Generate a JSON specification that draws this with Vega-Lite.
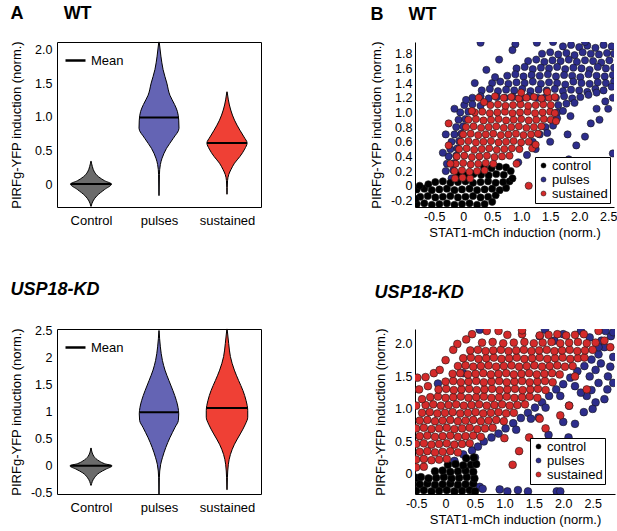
{
  "$schema": "https://vega.github.io/schema/vega-lite/v6.json",
  "padding": {"left": 9, "top": 4, "right": 0, "bottom": 0},
  "config": {
    "font": "Liberation Sans",
    "view": {"stroke": null},
    "axis": {"labelFontSize": 12.5, "titleFontSize": 13, "titleFontWeight": "normal", "labelColor": "black", "titleColor": "black", "domainColor": "black", "tickColor": "black", "grid": false, "labelOverlap": false},
    "title": {"fontSize": 18, "fontWeight": "bold", "anchor": "start", "frame": "bounds", "color": "black"},
    "legend": {"labelFontSize": 13, "labelColor": "black"}
  },
  "datasets": {
    "vWT": [
      {"g":"c","y":-0.33,"lo":0.498,"hi":0.502},{"g":"c","y":-0.25,"lo":0.47,"hi":0.53},{"g":"c","y":-0.17,"lo":0.41,"hi":0.59},{"g":"c","y":-0.08,"lo":0.3,"hi":0.7},{"g":"c","y":0,"lo":0.2,"hi":0.8},{"g":"c","y":0.05,"lo":0.3,"hi":0.7},{"g":"c","y":0.11,"lo":0.39,"hi":0.61},{"g":"c","y":0.18,"lo":0.45,"hi":0.55},{"g":"c","y":0.26,"lo":0.48,"hi":0.52},{"g":"c","y":0.34,"lo":0.498,"hi":0.502},
      {"g":"p","y":-0.17,"lo":1.498,"hi":1.502},{"g":"p","y":0.14,"lo":1.494,"hi":1.506},{"g":"p","y":0.29,"lo":1.48,"hi":1.52},{"g":"p","y":0.385,"lo":1.455,"hi":1.545},{"g":"p","y":0.53,"lo":1.39,"hi":1.61},{"g":"p","y":0.68,"lo":1.29,"hi":1.71},{"g":"p","y":0.83,"lo":1.206,"hi":1.794},{"g":"p","y":0.95,"lo":1.21,"hi":1.79},{"g":"p","y":1.08,"lo":1.23,"hi":1.77},{"g":"p","y":1.18,"lo":1.27,"hi":1.73},{"g":"p","y":1.32,"lo":1.34,"hi":1.66},{"g":"p","y":1.5,"lo":1.385,"hi":1.615},{"g":"p","y":1.7,"lo":1.44,"hi":1.56},{"g":"p","y":1.9,"lo":1.472,"hi":1.528},{"g":"p","y":2.11,"lo":1.497,"hi":1.503},
      {"g":"s","y":-0.15,"lo":2.498,"hi":2.502},{"g":"s","y":0.05,"lo":2.492,"hi":2.508},{"g":"s","y":0.14,"lo":2.475,"hi":2.525},{"g":"s","y":0.22,"lo":2.44,"hi":2.56},{"g":"s","y":0.31,"lo":2.39,"hi":2.61},{"g":"s","y":0.41,"lo":2.31,"hi":2.69},{"g":"s","y":0.52,"lo":2.24,"hi":2.76},{"g":"s","y":0.61,"lo":2.205,"hi":2.795},{"g":"s","y":0.7,"lo":2.25,"hi":2.75},{"g":"s","y":0.8,"lo":2.31,"hi":2.69},{"g":"s","y":0.95,"lo":2.39,"hi":2.61},{"g":"s","y":1.1,"lo":2.445,"hi":2.555},{"g":"s","y":1.25,"lo":2.48,"hi":2.52},{"g":"s","y":1.37,"lo":2.498,"hi":2.502}
    ],
    "mWT": [
      {"lab":"Mean","y":0,"lo":0.2,"hi":0.8},{"lab":"Mean","y":0.99,"lo":1.215,"hi":1.785},{"lab":"Mean","y":0.61,"lo":2.205,"hi":2.795}
    ],
    "vKD": [
      {"g":"c","y":-0.36,"lo":0.498,"hi":0.502},{"g":"c","y":-0.22,"lo":0.45,"hi":0.55},{"g":"c","y":-0.13,"lo":0.38,"hi":0.62},{"g":"c","y":-0.06,"lo":0.28,"hi":0.72},{"g":"c","y":0,"lo":0.19,"hi":0.81},{"g":"c","y":0.04,"lo":0.3,"hi":0.7},{"g":"c","y":0.09,"lo":0.38,"hi":0.62},{"g":"c","y":0.18,"lo":0.46,"hi":0.54},{"g":"c","y":0.33,"lo":0.498,"hi":0.502},
      {"g":"p","y":-0.53,"lo":1.498,"hi":1.502},{"g":"p","y":-0.22,"lo":1.495,"hi":1.505},{"g":"p","y":0.03,"lo":1.475,"hi":1.525},{"g":"p","y":0.15,"lo":1.45,"hi":1.55},{"g":"p","y":0.34,"lo":1.4,"hi":1.6},{"g":"p","y":0.52,"lo":1.34,"hi":1.66},{"g":"p","y":0.71,"lo":1.265,"hi":1.735},{"g":"p","y":0.84,"lo":1.215,"hi":1.785},{"g":"p","y":0.96,"lo":1.21,"hi":1.79},{"g":"p","y":1.08,"lo":1.22,"hi":1.78},{"g":"p","y":1.21,"lo":1.245,"hi":1.755},{"g":"p","y":1.39,"lo":1.295,"hi":1.705},{"g":"p","y":1.58,"lo":1.355,"hi":1.645},{"g":"p","y":1.77,"lo":1.412,"hi":1.588},{"g":"p","y":1.95,"lo":1.45,"hi":1.55},{"g":"p","y":2.2,"lo":1.48,"hi":1.52},{"g":"p","y":2.5,"lo":1.498,"hi":1.502},
      {"g":"s","y":-0.44,"lo":2.498,"hi":2.502},{"g":"s","y":-0.22,"lo":2.494,"hi":2.506},{"g":"s","y":0.03,"lo":2.48,"hi":2.52},{"g":"s","y":0.21,"lo":2.45,"hi":2.55},{"g":"s","y":0.4,"lo":2.39,"hi":2.61},{"g":"s","y":0.59,"lo":2.305,"hi":2.695},{"g":"s","y":0.77,"lo":2.23,"hi":2.77},{"g":"s","y":0.9,"lo":2.195,"hi":2.805},{"g":"s","y":1.02,"lo":2.195,"hi":2.805},{"g":"s","y":1.21,"lo":2.22,"hi":2.78},{"g":"s","y":1.39,"lo":2.265,"hi":2.735},{"g":"s","y":1.58,"lo":2.33,"hi":2.67},{"g":"s","y":1.77,"lo":2.392,"hi":2.608},{"g":"s","y":2.02,"lo":2.45,"hi":2.55},{"g":"s","y":2.26,"lo":2.475,"hi":2.525},{"g":"s","y":2.53,"lo":2.498,"hi":2.502}
    ],
    "mKD": [
      {"lab":"Mean","y":0,"lo":0.2,"hi":0.8},{"lab":"Mean","y":0.99,"lo":1.215,"hi":1.785},{"lab":"Mean","y":1.07,"lo":2.197,"hi":2.803}
    ],
    "sWT": [
      {"g":"p","x":1.72,"y":1.9},{"g":"p","x":1.86,"y":1.92},{"g":"p","x":2.0,"y":1.89},{"g":"p","x":2.14,"y":1.91},{"g":"p","x":2.28,"y":1.88},{"g":"p","x":2.42,"y":1.92},{"g":"p","x":2.56,"y":1.9},
      {"g":"p","x":1.27,"y":1.95},{"g":"p","x":0.9,"y":1.93},{"g":"p","x":0.3,"y":1.95},{"g":"p","x":1.55,"y":1.96},{"g":"p","x":2.1,"y":1.96},
      {"g":"p","x":1.36,"y":1.8},{"g":"p","x":1.5,"y":1.82},{"g":"p","x":1.64,"y":1.79},{"g":"p","x":1.78,"y":1.81},{"g":"p","x":1.92,"y":1.78},{"g":"p","x":2.06,"y":1.82},{"g":"p","x":2.2,"y":1.8},{"g":"p","x":2.34,"y":1.79},{"g":"p","x":2.48,"y":1.81},{"g":"p","x":2.6,"y":1.8},
      {"g":"p","x":1.12,"y":1.7},{"g":"p","x":1.26,"y":1.72},{"g":"p","x":1.4,"y":1.69},{"g":"p","x":1.54,"y":1.71},{"g":"p","x":1.68,"y":1.7},{"g":"p","x":1.82,"y":1.72},{"g":"p","x":1.96,"y":1.69},{"g":"p","x":2.1,"y":1.71},{"g":"p","x":2.24,"y":1.7},{"g":"p","x":2.38,"y":1.68},{"g":"p","x":2.52,"y":1.71},
      {"g":"p","x":0.92,"y":1.6},{"g":"p","x":1.06,"y":1.62},{"g":"p","x":1.2,"y":1.59},{"g":"p","x":1.34,"y":1.61},{"g":"p","x":1.48,"y":1.6},{"g":"p","x":1.62,"y":1.62},{"g":"p","x":1.76,"y":1.59},{"g":"p","x":1.9,"y":1.61},{"g":"p","x":2.04,"y":1.6},{"g":"p","x":2.18,"y":1.58},{"g":"p","x":2.32,"y":1.62},{"g":"p","x":2.46,"y":1.6},{"g":"p","x":2.6,"y":1.61},
      {"g":"p","x":0.76,"y":1.5},{"g":"p","x":0.9,"y":1.52},{"g":"p","x":1.04,"y":1.49},{"g":"p","x":1.18,"y":1.51},{"g":"p","x":1.32,"y":1.5},{"g":"p","x":1.46,"y":1.52},{"g":"p","x":1.6,"y":1.49},{"g":"p","x":1.74,"y":1.51},{"g":"p","x":1.88,"y":1.5},{"g":"p","x":2.02,"y":1.48},{"g":"p","x":2.16,"y":1.52},{"g":"p","x":2.3,"y":1.5},{"g":"p","x":2.44,"y":1.49},{"g":"p","x":2.58,"y":1.51},
      {"g":"p","x":0.5,"y":1.4},{"g":"p","x":0.64,"y":1.42},{"g":"p","x":0.78,"y":1.39},{"g":"p","x":0.92,"y":1.41},{"g":"p","x":1.06,"y":1.4},{"g":"p","x":1.2,"y":1.42},{"g":"p","x":1.34,"y":1.39},{"g":"p","x":1.48,"y":1.41},{"g":"p","x":1.62,"y":1.4},{"g":"p","x":1.76,"y":1.38},{"g":"p","x":1.9,"y":1.42},{"g":"p","x":2.04,"y":1.4},{"g":"p","x":2.18,"y":1.39},{"g":"p","x":2.32,"y":1.41},{"g":"p","x":2.46,"y":1.4},{"g":"p","x":2.6,"y":1.42},
      {"g":"p","x":0.32,"y":1.3},{"g":"p","x":0.46,"y":1.32},{"g":"p","x":0.6,"y":1.29},{"g":"p","x":0.74,"y":1.31},{"g":"p","x":0.88,"y":1.3},{"g":"p","x":1.02,"y":1.32},{"g":"p","x":1.16,"y":1.29},{"g":"p","x":1.3,"y":1.31},{"g":"p","x":1.44,"y":1.3},{"g":"p","x":1.58,"y":1.32},{"g":"p","x":1.72,"y":1.29},{"g":"p","x":1.86,"y":1.31},{"g":"p","x":2.0,"y":1.3},{"g":"p","x":2.14,"y":1.28},{"g":"p","x":2.28,"y":1.32},{"g":"p","x":2.42,"y":1.3},{"g":"p","x":2.56,"y":1.35},
      {"g":"p","x":0.16,"y":1.2},{"g":"p","x":0.3,"y":1.22},{"g":"p","x":0.44,"y":1.19},{"g":"p","x":0.58,"y":1.21},{"g":"p","x":0.72,"y":1.2},{"g":"p","x":0.86,"y":1.21},{"g":"p","x":1.0,"y":1.2},{"g":"p","x":1.14,"y":1.22},{"g":"p","x":1.28,"y":1.2},{"g":"p","x":1.42,"y":1.21},{"g":"p","x":1.6,"y":1.2},{"g":"p","x":1.74,"y":1.22},{"g":"p","x":1.88,"y":1.19},{"g":"p","x":2.02,"y":1.21},{"g":"p","x":2.16,"y":1.24},{"g":"p","x":2.3,"y":1.27},
      {"g":"p","x":0.02,"y":1.1},{"g":"p","x":0.16,"y":1.11},{"g":"p","x":0.3,"y":1.09},{"g":"p","x":1.64,"y":1.1},{"g":"p","x":1.78,"y":1.12},{"g":"p","x":1.92,"y":1.13},{"g":"p","x":2.3,"y":1.05},
      {"g":"p","x":-0.05,"y":1.0},{"g":"p","x":0.09,"y":1.01},{"g":"p","x":1.62,"y":1.0},{"g":"p","x":1.72,"y":1.02},{"g":"p","x":1.85,"y":0.95},
      {"g":"p","x":-0.08,"y":0.9},{"g":"p","x":0.04,"y":0.91},{"g":"p","x":1.55,"y":0.88},{"g":"p","x":1.62,"y":0.92},
      {"g":"p","x":-0.12,"y":0.8},{"g":"p","x":0.0,"y":0.81},{"g":"p","x":1.42,"y":0.8},{"g":"p","x":1.55,"y":0.82},
      {"g":"p","x":-0.15,"y":0.7},{"g":"p","x":-0.03,"y":0.71},{"g":"p","x":1.32,"y":0.7},{"g":"p","x":1.45,"y":0.72},
      {"g":"p","x":-0.2,"y":0.6},{"g":"p","x":-0.07,"y":0.61},{"g":"p","x":1.2,"y":0.6},
      {"g":"p","x":-0.22,"y":0.5},{"g":"p","x":-0.1,"y":0.51},{"g":"p","x":-0.25,"y":0.4},{"g":"p","x":-0.12,"y":0.41},{"g":"p","x":-0.28,"y":0.3},{"g":"p","x":-0.15,"y":0.31},{"g":"p","x":-0.3,"y":0.2},{"g":"p","x":-0.17,"y":0.21},{"g":"p","x":-0.2,"y":0.1},
      {"g":"p","x":-0.15,"y":1.05},{"g":"p","x":0.05,"y":1.17},{"g":"p","x":0.4,"y":1.58},{"g":"p","x":0.62,"y":1.72},{"g":"p","x":0.55,"y":1.48},{"g":"p","x":-0.3,"y":0.7},{"g":"p","x":-0.35,"y":0.45},{"g":"p","x":0.85,"y":1.85},{"g":"p","x":1.8,"y":0.7},{"g":"p","x":2.1,"y":0.67},{"g":"p","x":2.58,"y":0.44},{"g":"p","x":1.82,"y":0.36},{"g":"p","x":1.95,"y":0.55},{"g":"p","x":2.35,"y":0.9},{"g":"p","x":2.5,"y":1.05},{"g":"p","x":2.2,"y":0.85},{"g":"p","x":0.95,"y":0.32},{"g":"p","x":1.1,"y":0.42},{"g":"p","x":1.25,"y":0.5},{"g":"p","x":1.5,"y":0.6},{"g":"p","x":2.45,"y":1.15},{"g":"p","x":0.2,"y":1.4},{"g":"p","x":2.58,"y":1.2},
      {"g":"c","x":-0.8,"y":-0.25},{"g":"c","x":-0.67,"y":-0.24},{"g":"c","x":-0.54,"y":-0.26},{"g":"c","x":-0.41,"y":-0.25},{"g":"c","x":-0.28,"y":-0.24},{"g":"c","x":-0.15,"y":-0.26},{"g":"c","x":-0.02,"y":-0.25},{"g":"c","x":0.11,"y":-0.24},{"g":"c","x":0.24,"y":-0.26},{"g":"c","x":0.37,"y":-0.25},
      {"g":"c","x":-0.74,"y":-0.15},{"g":"c","x":-0.61,"y":-0.14},{"g":"c","x":-0.48,"y":-0.16},{"g":"c","x":-0.35,"y":-0.15},{"g":"c","x":-0.22,"y":-0.14},{"g":"c","x":-0.09,"y":-0.16},{"g":"c","x":0.04,"y":-0.15},{"g":"c","x":0.17,"y":-0.14},{"g":"c","x":0.3,"y":-0.16},{"g":"c","x":0.43,"y":-0.15},{"g":"c","x":0.56,"y":-0.13},
      {"g":"c","x":-0.8,"y":-0.05},{"g":"c","x":-0.67,"y":-0.04},{"g":"c","x":-0.54,"y":-0.06},{"g":"c","x":-0.41,"y":-0.05},{"g":"c","x":-0.28,"y":-0.04},{"g":"c","x":-0.15,"y":-0.06},{"g":"c","x":-0.02,"y":-0.05},{"g":"c","x":0.11,"y":-0.04},{"g":"c","x":0.24,"y":-0.06},{"g":"c","x":0.37,"y":-0.05},{"g":"c","x":0.5,"y":-0.04},{"g":"c","x":0.63,"y":-0.06},{"g":"c","x":0.74,"y":-0.03},
      {"g":"c","x":-0.48,"y":0.05},{"g":"c","x":-0.35,"y":0.06},{"g":"c","x":-0.22,"y":0.04},{"g":"c","x":-0.09,"y":0.05},{"g":"c","x":0.04,"y":0.06},{"g":"c","x":0.17,"y":0.04},{"g":"c","x":0.3,"y":0.05},{"g":"c","x":0.43,"y":0.06},{"g":"c","x":0.56,"y":0.04},{"g":"c","x":0.69,"y":0.05},{"g":"c","x":0.8,"y":0.06},
      {"g":"c","x":-0.08,"y":0.15},{"g":"c","x":0.05,"y":0.14},{"g":"c","x":0.18,"y":0.16},{"g":"c","x":0.31,"y":0.15},{"g":"c","x":0.44,"y":0.14},{"g":"c","x":0.57,"y":0.16},{"g":"c","x":0.7,"y":0.15},
      {"g":"c","x":0.36,"y":0.25},{"g":"c","x":0.49,"y":0.24},{"g":"c","x":0.62,"y":0.26},{"g":"c","x":0.74,"y":0.25},
      {"g":"c","x":-0.6,"y":0.02},{"g":"c","x":-0.75,"y":0.0},{"g":"c","x":0.82,"y":0.2},{"g":"c","x":0.5,"y":-0.22},{"g":"c","x":-0.82,"y":-0.18},{"g":"c","x":0.85,"y":0.1},
      {"g":"s","x":-0.14,"y":0.1},{"g":"s","x":-0.01,"y":0.11},{"g":"s","x":0.12,"y":0.1},
      {"g":"s","x":-0.15,"y":0.2},{"g":"s","x":-0.02,"y":0.21},{"g":"s","x":0.11,"y":0.19},{"g":"s","x":0.24,"y":0.2},{"g":"s","x":0.37,"y":0.21},
      {"g":"s","x":-0.13,"y":0.3},{"g":"s","x":0.0,"y":0.31},{"g":"s","x":0.13,"y":0.29},{"g":"s","x":0.26,"y":0.3},{"g":"s","x":0.39,"y":0.31},{"g":"s","x":0.52,"y":0.3},
      {"g":"s","x":-0.11,"y":0.4},{"g":"s","x":0.02,"y":0.41},{"g":"s","x":0.15,"y":0.39},{"g":"s","x":0.28,"y":0.4},{"g":"s","x":0.41,"y":0.41},{"g":"s","x":0.54,"y":0.39},{"g":"s","x":0.67,"y":0.4},{"g":"s","x":0.8,"y":0.41},
      {"g":"s","x":-0.07,"y":0.5},{"g":"s","x":0.06,"y":0.51},{"g":"s","x":0.19,"y":0.49},{"g":"s","x":0.32,"y":0.5},{"g":"s","x":0.45,"y":0.51},{"g":"s","x":0.58,"y":0.49},{"g":"s","x":0.71,"y":0.5},{"g":"s","x":0.84,"y":0.51},{"g":"s","x":0.97,"y":0.5},
      {"g":"s","x":-0.04,"y":0.6},{"g":"s","x":0.09,"y":0.61},{"g":"s","x":0.22,"y":0.59},{"g":"s","x":0.35,"y":0.6},{"g":"s","x":0.48,"y":0.61},{"g":"s","x":0.61,"y":0.59},{"g":"s","x":0.74,"y":0.6},{"g":"s","x":0.87,"y":0.61},{"g":"s","x":1.0,"y":0.59},{"g":"s","x":1.13,"y":0.6},
      {"g":"s","x":0.0,"y":0.7},{"g":"s","x":0.13,"y":0.71},{"g":"s","x":0.26,"y":0.69},{"g":"s","x":0.39,"y":0.7},{"g":"s","x":0.52,"y":0.71},{"g":"s","x":0.65,"y":0.69},{"g":"s","x":0.78,"y":0.7},{"g":"s","x":0.91,"y":0.71},{"g":"s","x":1.04,"y":0.69},{"g":"s","x":1.17,"y":0.7},{"g":"s","x":1.29,"y":0.71},
      {"g":"s","x":0.05,"y":0.8},{"g":"s","x":0.18,"y":0.81},{"g":"s","x":0.31,"y":0.79},{"g":"s","x":0.44,"y":0.8},{"g":"s","x":0.57,"y":0.81},{"g":"s","x":0.7,"y":0.79},{"g":"s","x":0.83,"y":0.8},{"g":"s","x":0.96,"y":0.81},{"g":"s","x":1.09,"y":0.79},{"g":"s","x":1.22,"y":0.8},{"g":"s","x":1.35,"y":0.81},
      {"g":"s","x":0.09,"y":0.9},{"g":"s","x":0.22,"y":0.91},{"g":"s","x":0.35,"y":0.89},{"g":"s","x":0.48,"y":0.9},{"g":"s","x":0.61,"y":0.91},{"g":"s","x":0.74,"y":0.89},{"g":"s","x":0.87,"y":0.9},{"g":"s","x":1.0,"y":0.91},{"g":"s","x":1.13,"y":0.89},{"g":"s","x":1.26,"y":0.9},{"g":"s","x":1.39,"y":0.91},{"g":"s","x":1.51,"y":0.9},
      {"g":"s","x":0.2,"y":1.0},{"g":"s","x":0.33,"y":1.01},{"g":"s","x":0.46,"y":0.99},{"g":"s","x":0.59,"y":1.0},{"g":"s","x":0.72,"y":1.01},{"g":"s","x":0.85,"y":0.99},{"g":"s","x":0.98,"y":1.0},{"g":"s","x":1.11,"y":1.01},{"g":"s","x":1.24,"y":0.99},{"g":"s","x":1.37,"y":1.0},{"g":"s","x":1.5,"y":1.01},{"g":"s","x":1.58,"y":0.99},
      {"g":"s","x":0.47,"y":1.1},{"g":"s","x":0.6,"y":1.11},{"g":"s","x":0.73,"y":1.09},{"g":"s","x":0.86,"y":1.1},{"g":"s","x":0.99,"y":1.11},{"g":"s","x":1.12,"y":1.09},{"g":"s","x":1.25,"y":1.1},{"g":"s","x":1.38,"y":1.11},{"g":"s","x":1.51,"y":1.1},
      {"g":"s","x":0.7,"y":1.2},{"g":"s","x":0.83,"y":1.21},{"g":"s","x":0.96,"y":1.19},{"g":"s","x":1.09,"y":1.2},{"g":"s","x":1.22,"y":1.21},{"g":"s","x":1.35,"y":1.19},{"g":"s","x":1.48,"y":1.2},{"g":"s","x":1.58,"y":1.21},
      {"g":"s","x":-0.25,"y":0.85},{"g":"s","x":0.27,"y":1.2},{"g":"s","x":0.36,"y":1.14},{"g":"s","x":1.13,"y":0.0},{"g":"s","x":1.19,"y":0.51},{"g":"s","x":1.25,"y":0.56},{"g":"s","x":-0.25,"y":0.55},{"g":"s","x":-0.22,"y":0.3},{"g":"s","x":1.0,"y":1.27},{"g":"s","x":0.55,"y":1.22},{"g":"s","x":1.45,"y":1.28},{"g":"s","x":0.92,"y":0.3},{"g":"s","x":0.15,"y":1.02},{"g":"s","x":1.6,"y":0.88}
    ],
    "sKD": [
      {"g":"p","x":0.3,"y":0.3},{"g":"p","x":0.45,"y":0.36},{"g":"p","x":0.55,"y":0.42},{"g":"p","x":0.65,"y":0.5},{"g":"p","x":0.78,"y":0.56},{"g":"p","x":0.9,"y":0.62},{"g":"p","x":1.02,"y":0.7},{"g":"p","x":1.15,"y":0.78},{"g":"p","x":1.28,"y":0.86},{"g":"p","x":1.4,"y":0.94},{"g":"p","x":1.52,"y":1.02},{"g":"p","x":1.64,"y":1.1},{"g":"p","x":1.76,"y":1.2},{"g":"p","x":1.88,"y":1.3},{"g":"p","x":2.0,"y":1.38},{"g":"p","x":2.12,"y":1.48},{"g":"p","x":2.24,"y":1.58},{"g":"p","x":2.36,"y":1.66},{"g":"p","x":2.48,"y":1.76},{"g":"p","x":2.6,"y":1.84},
      {"g":"p","x":1.2,"y":0.68},{"g":"p","x":1.45,"y":0.85},{"g":"p","x":1.7,"y":1.02},{"g":"p","x":1.95,"y":1.2},{"g":"p","x":2.2,"y":1.35},{"g":"p","x":2.45,"y":1.5},
      {"g":"p","x":2.48,"y":1.29},{"g":"p","x":2.76,"y":1.5},{"g":"p","x":2.64,"y":1.7},{"g":"p","x":2.81,"y":2.12},{"g":"p","x":2.7,"y":1.95},{"g":"p","x":2.85,"y":1.8},{"g":"p","x":2.6,"y":1.4},{"g":"p","x":2.75,"y":1.3},{"g":"p","x":2.55,"y":1.6},{"g":"p","x":2.8,"y":1.65},{"g":"p","x":2.4,"y":1.2},{"g":"p","x":2.65,"y":2.05},{"g":"p","x":2.85,"y":2.18},{"g":"p","x":2.72,"y":2.2},{"g":"p","x":2.55,"y":1.1},{"g":"p","x":2.3,"y":1.25},{"g":"p","x":2.1,"y":1.05},{"g":"p","x":2.85,"y":1.4},{"g":"p","x":2.7,"y":1.15},{"g":"p","x":2.6,"y":1.95},
      {"g":"p","x":0.58,"y":2.22},{"g":"p","x":1.69,"y":2.22},{"g":"p","x":1.6,"y":2.12},{"g":"p","x":1.85,"y":2.05},{"g":"p","x":2.0,"y":2.15},{"g":"p","x":2.3,"y":2.2},{"g":"p","x":2.45,"y":2.1},{"g":"p","x":0.3,"y":1.55},{"g":"p","x":-0.13,"y":1.39},
      {"g":"p","x":0.58,"y":-0.2},{"g":"p","x":0.63,"y":-0.23},{"g":"p","x":0.92,"y":-0.24},{"g":"p","x":1.23,"y":-0.25},{"g":"p","x":1.4,"y":-0.27},{"g":"p","x":1.89,"y":-0.27},{"g":"p","x":1.95,"y":-0.27},{"g":"p","x":1.05,"y":-0.27},
      {"g":"p","x":2.2,"y":0.77},{"g":"p","x":2.09,"y":0.56},{"g":"p","x":1.86,"y":0.45},{"g":"p","x":1.58,"y":0.87},{"g":"p","x":2.35,"y":0.95},{"g":"p","x":2.0,"y":0.8},{"g":"p","x":1.75,"y":0.6},{"g":"p","x":2.5,"y":1.0},{"g":"p","x":0.5,"y":0.25},{"g":"p","x":0.15,"y":0.2},
      {"g":"c","x":-0.5,"y":-0.26},{"g":"c","x":-0.37,"y":-0.25},{"g":"c","x":-0.24,"y":-0.27},{"g":"c","x":-0.11,"y":-0.26},{"g":"c","x":0.02,"y":-0.25},{"g":"c","x":0.15,"y":-0.27},{"g":"c","x":0.28,"y":-0.26},{"g":"c","x":0.41,"y":-0.25},{"g":"c","x":0.5,"y":-0.27},
      {"g":"c","x":-0.44,"y":-0.16},{"g":"c","x":-0.31,"y":-0.15},{"g":"c","x":-0.18,"y":-0.17},{"g":"c","x":-0.05,"y":-0.16},{"g":"c","x":0.08,"y":-0.15},{"g":"c","x":0.21,"y":-0.17},{"g":"c","x":0.34,"y":-0.16},{"g":"c","x":0.47,"y":-0.15},
      {"g":"c","x":-0.5,"y":-0.06},{"g":"c","x":-0.42,"y":-0.05},{"g":"c","x":-0.29,"y":-0.07},{"g":"c","x":-0.16,"y":-0.06},{"g":"c","x":-0.03,"y":-0.05},{"g":"c","x":0.1,"y":-0.07},{"g":"c","x":0.23,"y":-0.06},{"g":"c","x":0.36,"y":-0.05},{"g":"c","x":0.49,"y":-0.07},
      {"g":"c","x":-0.18,"y":0.04},{"g":"c","x":-0.05,"y":0.05},{"g":"c","x":0.08,"y":0.03},{"g":"c","x":0.21,"y":0.04},{"g":"c","x":0.34,"y":0.05},{"g":"c","x":0.47,"y":0.03},
      {"g":"c","x":0.04,"y":0.14},{"g":"c","x":0.17,"y":0.15},{"g":"c","x":0.3,"y":0.13},{"g":"c","x":0.43,"y":0.14},{"g":"c","x":0.52,"y":0.15},{"g":"c","x":0.35,"y":0.24},{"g":"c","x":0.48,"y":0.25},
      {"g":"s","x":-0.5,"y":0.1},{"g":"s","x":-0.37,"y":0.11},
      {"g":"s","x":-0.5,"y":0.22},{"g":"s","x":-0.37,"y":0.23},{"g":"s","x":-0.24,"y":0.21},{"g":"s","x":-0.11,"y":0.22},{"g":"s","x":0.02,"y":0.23},
      {"g":"s","x":-0.44,"y":0.34},{"g":"s","x":-0.31,"y":0.35},{"g":"s","x":-0.18,"y":0.33},{"g":"s","x":-0.05,"y":0.34},{"g":"s","x":0.08,"y":0.35},{"g":"s","x":0.21,"y":0.33},
      {"g":"s","x":-0.5,"y":0.46},{"g":"s","x":-0.37,"y":0.47},{"g":"s","x":-0.24,"y":0.45},{"g":"s","x":-0.11,"y":0.46},{"g":"s","x":0.02,"y":0.47},{"g":"s","x":0.15,"y":0.45},{"g":"s","x":0.28,"y":0.46},{"g":"s","x":0.41,"y":0.47},
      {"g":"s","x":-0.44,"y":0.58},{"g":"s","x":-0.31,"y":0.59},{"g":"s","x":-0.18,"y":0.57},{"g":"s","x":-0.05,"y":0.58},{"g":"s","x":0.08,"y":0.59},{"g":"s","x":0.21,"y":0.57},{"g":"s","x":0.34,"y":0.58},{"g":"s","x":0.47,"y":0.59},{"g":"s","x":0.6,"y":0.57},
      {"g":"s","x":-0.5,"y":0.7},{"g":"s","x":-0.37,"y":0.71},{"g":"s","x":-0.24,"y":0.69},{"g":"s","x":-0.11,"y":0.7},{"g":"s","x":0.02,"y":0.71},{"g":"s","x":0.15,"y":0.69},{"g":"s","x":0.28,"y":0.7},{"g":"s","x":0.41,"y":0.71},{"g":"s","x":0.54,"y":0.69},{"g":"s","x":0.67,"y":0.7},{"g":"s","x":0.8,"y":0.71},
      {"g":"s","x":-0.44,"y":0.82},{"g":"s","x":-0.31,"y":0.83},{"g":"s","x":-0.18,"y":0.81},{"g":"s","x":-0.05,"y":0.82},{"g":"s","x":0.08,"y":0.83},{"g":"s","x":0.21,"y":0.81},{"g":"s","x":0.34,"y":0.82},{"g":"s","x":0.47,"y":0.83},{"g":"s","x":0.6,"y":0.81},{"g":"s","x":0.73,"y":0.82},{"g":"s","x":0.86,"y":0.83},{"g":"s","x":0.99,"y":0.81},
      {"g":"s","x":-0.4,"y":0.94},{"g":"s","x":-0.27,"y":0.95},{"g":"s","x":-0.14,"y":0.93},{"g":"s","x":-0.01,"y":0.94},{"g":"s","x":0.12,"y":0.95},{"g":"s","x":0.25,"y":0.93},{"g":"s","x":0.38,"y":0.94},{"g":"s","x":0.51,"y":0.95},{"g":"s","x":0.64,"y":0.93},{"g":"s","x":0.77,"y":0.94},{"g":"s","x":0.9,"y":0.95},{"g":"s","x":1.03,"y":0.93},{"g":"s","x":1.16,"y":0.94},
      {"g":"s","x":-0.34,"y":1.06},{"g":"s","x":-0.21,"y":1.07},{"g":"s","x":-0.08,"y":1.05},{"g":"s","x":0.05,"y":1.06},{"g":"s","x":0.18,"y":1.07},{"g":"s","x":0.31,"y":1.05},{"g":"s","x":0.44,"y":1.06},{"g":"s","x":0.57,"y":1.07},{"g":"s","x":0.7,"y":1.05},{"g":"s","x":0.83,"y":1.06},{"g":"s","x":0.96,"y":1.07},{"g":"s","x":1.09,"y":1.05},{"g":"s","x":1.22,"y":1.06},{"g":"s","x":1.35,"y":1.07},
      {"g":"s","x":-0.26,"y":1.18},{"g":"s","x":-0.13,"y":1.19},{"g":"s","x":0.0,"y":1.17},{"g":"s","x":0.13,"y":1.18},{"g":"s","x":0.26,"y":1.19},{"g":"s","x":0.39,"y":1.17},{"g":"s","x":0.52,"y":1.18},{"g":"s","x":0.65,"y":1.19},{"g":"s","x":0.78,"y":1.17},{"g":"s","x":0.91,"y":1.18},{"g":"s","x":1.04,"y":1.19},{"g":"s","x":1.17,"y":1.17},{"g":"s","x":1.3,"y":1.18},{"g":"s","x":1.43,"y":1.19},{"g":"s","x":1.56,"y":1.17},
      {"g":"s","x":-0.12,"y":1.3},{"g":"s","x":0.01,"y":1.31},{"g":"s","x":0.14,"y":1.29},{"g":"s","x":0.27,"y":1.3},{"g":"s","x":0.4,"y":1.31},{"g":"s","x":0.53,"y":1.29},{"g":"s","x":0.66,"y":1.3},{"g":"s","x":0.79,"y":1.31},{"g":"s","x":0.92,"y":1.29},{"g":"s","x":1.05,"y":1.3},{"g":"s","x":1.18,"y":1.31},{"g":"s","x":1.31,"y":1.29},{"g":"s","x":1.44,"y":1.3},{"g":"s","x":1.57,"y":1.31},{"g":"s","x":1.7,"y":1.29},
      {"g":"s","x":0.0,"y":1.42},{"g":"s","x":0.13,"y":1.43},{"g":"s","x":0.26,"y":1.41},{"g":"s","x":0.39,"y":1.42},{"g":"s","x":0.52,"y":1.43},{"g":"s","x":0.65,"y":1.41},{"g":"s","x":0.78,"y":1.42},{"g":"s","x":0.91,"y":1.43},{"g":"s","x":1.04,"y":1.41},{"g":"s","x":1.17,"y":1.42},{"g":"s","x":1.3,"y":1.43},{"g":"s","x":1.43,"y":1.41},{"g":"s","x":1.56,"y":1.42},{"g":"s","x":1.69,"y":1.43},{"g":"s","x":1.82,"y":1.41},
      {"g":"s","x":0.12,"y":1.54},{"g":"s","x":0.25,"y":1.55},{"g":"s","x":0.38,"y":1.53},{"g":"s","x":0.51,"y":1.54},{"g":"s","x":0.64,"y":1.55},{"g":"s","x":0.77,"y":1.53},{"g":"s","x":0.9,"y":1.54},{"g":"s","x":1.03,"y":1.55},{"g":"s","x":1.16,"y":1.53},{"g":"s","x":1.29,"y":1.54},{"g":"s","x":1.42,"y":1.55},{"g":"s","x":1.55,"y":1.53},{"g":"s","x":1.68,"y":1.54},{"g":"s","x":1.81,"y":1.55},{"g":"s","x":1.94,"y":1.53},
      {"g":"s","x":0.21,"y":1.66},{"g":"s","x":0.34,"y":1.67},{"g":"s","x":0.47,"y":1.65},{"g":"s","x":0.6,"y":1.66},{"g":"s","x":0.73,"y":1.67},{"g":"s","x":0.86,"y":1.65},{"g":"s","x":0.99,"y":1.66},{"g":"s","x":1.12,"y":1.67},{"g":"s","x":1.25,"y":1.65},{"g":"s","x":1.38,"y":1.66},{"g":"s","x":1.51,"y":1.67},{"g":"s","x":1.64,"y":1.65},{"g":"s","x":1.77,"y":1.66},{"g":"s","x":1.9,"y":1.67},{"g":"s","x":2.03,"y":1.65},{"g":"s","x":2.16,"y":1.66},
      {"g":"s","x":0.3,"y":1.78},{"g":"s","x":0.43,"y":1.79},{"g":"s","x":0.56,"y":1.77},{"g":"s","x":0.69,"y":1.78},{"g":"s","x":0.82,"y":1.79},{"g":"s","x":0.95,"y":1.77},{"g":"s","x":1.08,"y":1.78},{"g":"s","x":1.21,"y":1.79},{"g":"s","x":1.34,"y":1.77},{"g":"s","x":1.47,"y":1.78},{"g":"s","x":1.6,"y":1.79},{"g":"s","x":1.73,"y":1.77},{"g":"s","x":1.86,"y":1.78},{"g":"s","x":1.99,"y":1.79},{"g":"s","x":2.12,"y":1.77},{"g":"s","x":2.25,"y":1.78},{"g":"s","x":2.36,"y":1.79},
      {"g":"s","x":0.42,"y":1.9},{"g":"s","x":0.55,"y":1.91},{"g":"s","x":0.68,"y":1.89},{"g":"s","x":0.81,"y":1.9},{"g":"s","x":0.94,"y":1.91},{"g":"s","x":1.07,"y":1.89},{"g":"s","x":1.2,"y":1.9},{"g":"s","x":1.33,"y":1.91},{"g":"s","x":1.46,"y":1.89},{"g":"s","x":1.59,"y":1.9},{"g":"s","x":1.72,"y":1.91},{"g":"s","x":1.85,"y":1.89},{"g":"s","x":1.98,"y":1.9},{"g":"s","x":2.11,"y":1.91},{"g":"s","x":2.24,"y":1.89},{"g":"s","x":2.37,"y":1.9},{"g":"s","x":2.5,"y":1.91},
      {"g":"s","x":0.62,"y":2.02},{"g":"s","x":0.8,"y":2.03},{"g":"s","x":0.98,"y":2.01},{"g":"s","x":1.16,"y":2.02},{"g":"s","x":1.34,"y":2.03},{"g":"s","x":1.5,"y":2.01},{"g":"s","x":1.65,"y":2.02},{"g":"s","x":1.8,"y":2.03},{"g":"s","x":1.95,"y":2.01},{"g":"s","x":2.1,"y":2.02},{"g":"s","x":2.25,"y":2.03},{"g":"s","x":2.4,"y":2.01},{"g":"s","x":2.55,"y":2.02},
      {"g":"s","x":1.05,"y":2.14},{"g":"s","x":1.3,"y":2.15},{"g":"s","x":1.6,"y":2.13},{"g":"s","x":1.75,"y":2.14},{"g":"s","x":1.9,"y":2.15},{"g":"s","x":2.05,"y":2.13},{"g":"s","x":2.2,"y":2.14},{"g":"s","x":2.35,"y":2.15},
      {"g":"s","x":-0.34,"y":1.49},{"g":"s","x":0.13,"y":1.91},{"g":"s","x":-0.45,"y":1.3},{"g":"s","x":-0.2,"y":1.55},{"g":"s","x":0.0,"y":1.75},{"g":"s","x":0.2,"y":2.0},{"g":"s","x":0.45,"y":2.15},{"g":"s","x":0.7,"y":2.2},{"g":"s","x":-0.3,"y":1.35},{"g":"s","x":1.42,"y":0.56},{"g":"s","x":1.14,"y":0.14},{"g":"s","x":1.7,"y":0.7},{"g":"s","x":1.95,"y":0.9},{"g":"s","x":2.1,"y":1.05},{"g":"s","x":1.6,"y":0.85},{"g":"s","x":2.4,"y":1.3},{"g":"s","x":2.2,"y":1.5},{"g":"s","x":-0.5,"y":1.05},{"g":"s","x":-0.48,"y":1.48},{"g":"s","x":0.9,"y":2.2},{"g":"s","x":1.3,"y":2.21},{"g":"s","x":2.6,"y":2.2},{"g":"s","x":1.0,"y":0.55},{"g":"s","x":1.25,"y":0.35},{"g":"s","x":-0.1,"y":1.6},{"g":"s","x":-0.4,"y":1.15},{"g":"s","x":0.35,"y":2.07},{"g":"s","x":2.7,"y":2.05},{"g":"s","x":2.8,"y":1.95}
    ]
  },
  "spacing": 40,
  "resolve": {"scale": {"color": "independent", "fill": "independent"}, "legend": {"color": "independent", "fill": "independent"}},
  "vconcat": [
    {
      "spacing": 108,
      "resolve": {"scale": {"color": "independent", "fill": "independent"}, "legend": {"color": "independent", "fill": "independent"}},
      "hconcat": [
        {
          "width": 204,
          "height": 165,
          "view": {"stroke": "black", "strokeWidth": 1},
          "title": {"text": "A\u00a0\u00a0\u00a0\u00a0\u00a0\u00a0\u00a0\u00a0WT", "offset": 17},
          "layer": [
            {
              "data": {"name": "vWT"},
              "mark": {"type": "area", "orient": "horizontal", "interpolate": "monotone", "stroke": "black", "strokeWidth": 1, "fillOpacity": 1, "opacity": 1},
              "encoding": {
                "y": {"field": "y", "type": "quantitative", "scale": {"domain": [-0.34, 2.11], "nice": false, "zero": false},
                  "axis": {"title": "PIRFg-YFP induction (norm.)", "values": [0, 0.5, 1, 1.5, 2], "tickCount": 20, "labelExpr": "datum.value == 0 ? '0' : format(datum.value, '.1f')", "labelOverlap": false, "ticks": false, "domain": false, "labelPadding": 5, "titlePadding": 11}},
                "x": {"field": "lo", "type": "quantitative", "scale": {"domain": [0, 3], "nice": false, "zero": false},
                  "axis": {"title": null, "values": [0.5, 1.5, 2.5], "tickCount": 20, "labelExpr": "datum.value < 1 ? 'Control' : datum.value < 2 ? 'pulses' : 'sustained'", "labelOverlap": false, "ticks": false, "domain": false, "labelPadding": 7, "labelFontSize": 13}},
                "x2": {"field": "hi"},
                "fill": {"field": "g", "type": "nominal", "scale": {"domain": ["c", "p", "s"], "range": ["#6b6b6b", "#6464b4", "#ef4035"]}, "legend": null}
              }
            },
            {
              "data": {"name": "mWT"},
              "mark": {"type": "rule", "strokeWidth": 2},
              "encoding": {
                "y": {"field": "y", "type": "quantitative"},
                "x": {"field": "lo", "type": "quantitative"},
                "x2": {"field": "hi"},
                "color": {"field": "lab", "type": "nominal", "scale": {"range": ["black"]},
                  "legend": {"title": null, "orient": "top-left", "symbolType": "stroke", "symbolStrokeWidth": 2.5, "symbolSize": 400, "labelFontSize": 13, "offset": 5, "padding": 2}}
              }
            }
          ]
        },
        {
          "width": 199,
          "height": 165,
          "title": {"text": "B\u00a0\u00a0\u00a0\u00a0\u00a0WT", "offset": 17},
          "data": {"name": "sWT"},
          "mark": {"type": "point", "filled": true, "size": 52, "stroke": "#1a1a1a", "strokeWidth": 0.6, "opacity": 1, "clip": true},
          "encoding": {
            "x": {"field": "x", "type": "quantitative", "scale": {"domain": [-0.83, 2.6], "nice": false, "zero": false},
              "axis": {"title": "STAT1-mCh induction (norm.)", "values": [-0.5, 0, 0.5, 1, 1.5, 2, 2.5], "tickCount": 20, "labelExpr": "(datum.value < 0 ? '-' : '') + (datum.value == 0 ? '0' : format(abs(datum.value), '.1f'))", "labelOverlap": false, "ticks": false, "labelPadding": 3, "titlePadding": 4}},
            "y": {"field": "y", "type": "quantitative", "scale": {"domain": [-0.29, 1.96], "nice": false, "zero": false},
              "axis": {"title": "PIRFg-YFP induction (norm.)", "values": [-0.2, 0, 0.2, 0.4, 0.6, 0.8, 1, 1.2, 1.4, 1.6, 1.8], "tickCount": 20, "labelExpr": "(datum.value < 0 ? '-' : '') + (datum.value == 0 ? '0' : format(abs(datum.value), '.1f'))", "labelOverlap": false, "ticks": false, "labelPadding": 3, "titlePadding": 7}},
            "color": {"field": "g", "type": "nominal", "scale": {"domain": ["c", "p", "s"], "range": ["#000000", "#2d2d8c", "#d42a2a"]},
              "legend": {"title": null, "orient": "bottom-right", "labelExpr": "datum.label == 'c' ? 'control' : datum.label == 'p' ? 'pulses' : 'sustained'", "strokeColor": "black", "fillColor": "white", "padding": 2, "offset": 4, "symbolSize": 25, "symbolStrokeColor": "#111111", "symbolStrokeWidth": 0.5, "rowPadding": -1, "labelOffset": 2, "labelFontSize": 13}}
          }
        }
      ]
    },
    {
      "spacing": 112,
      "resolve": {"scale": {"color": "independent", "fill": "independent"}, "legend": {"color": "independent", "fill": "independent"}},
      "hconcat": [
        {
          "width": 204,
          "height": 165,
          "view": {"stroke": "black", "strokeWidth": 1},
          "title": {"text": "USP18-KD", "offset": 26, "fontStyle": "italic"},
          "layer": [
            {
              "data": {"name": "vKD"},
              "mark": {"type": "area", "orient": "horizontal", "interpolate": "monotone", "stroke": "black", "strokeWidth": 1, "fillOpacity": 1, "opacity": 1},
              "encoding": {
                "y": {"field": "y", "type": "quantitative", "scale": {"domain": [-0.52, 2.53], "nice": false, "zero": false},
                  "axis": {"title": "PIRFg-YFP induction (norm.)", "values": [-0.5, 0, 0.5, 1, 1.5, 2, 2.5], "tickCount": 20, "labelExpr": "datum.value == 0 ? '0' : (datum.value < 0 ? '-' : '') + format(abs(datum.value), '~g')", "labelOverlap": false, "ticks": false, "domain": false, "labelPadding": 5, "titlePadding": 7}},
                "x": {"field": "lo", "type": "quantitative", "scale": {"domain": [0, 3], "nice": false, "zero": false},
                  "axis": {"title": null, "values": [0.5, 1.5, 2.5], "tickCount": 20, "labelExpr": "datum.value < 1 ? 'Control' : datum.value < 2 ? 'pulses' : 'sustained'", "labelOverlap": false, "ticks": false, "domain": false, "labelPadding": 7, "labelFontSize": 13}},
                "x2": {"field": "hi"},
                "fill": {"field": "g", "type": "nominal", "scale": {"domain": ["c", "p", "s"], "range": ["#6b6b6b", "#6464b4", "#ef4035"]}, "legend": null}
              }
            },
            {
              "data": {"name": "mKD"},
              "mark": {"type": "rule", "strokeWidth": 2},
              "encoding": {
                "y": {"field": "y", "type": "quantitative"},
                "x": {"field": "lo", "type": "quantitative"},
                "x2": {"field": "hi"},
                "color": {"field": "lab", "type": "nominal", "scale": {"range": ["black"]},
                  "legend": {"title": null, "orient": "top-left", "symbolType": "stroke", "symbolStrokeWidth": 2.5, "symbolSize": 400, "labelFontSize": 13, "offset": 5, "padding": 2}}
              }
            }
          ]
        },
        {
          "width": 200,
          "height": 165,
          "title": {"text": "USP18-KD", "offset": 26, "fontStyle": "italic"},
          "data": {"name": "sKD"},
          "mark": {"type": "point", "filled": true, "size": 60, "stroke": "#1a1a1a", "strokeWidth": 0.6, "opacity": 1, "clip": true},
          "encoding": {
            "x": {"field": "x", "type": "quantitative", "scale": {"domain": [-0.52, 2.88], "nice": false, "zero": false},
              "axis": {"title": "STAT1-mCh induction (norm.)", "values": [-0.5, 0, 0.5, 1, 1.5, 2, 2.5], "tickCount": 20, "labelExpr": "(datum.value < 0 ? '-' : '') + (datum.value == 0 ? '0' : format(abs(datum.value), '.1f'))", "labelOverlap": false, "ticks": false, "labelPadding": 3, "titlePadding": 4}},
            "y": {"field": "y", "type": "quantitative", "scale": {"domain": [-0.31, 2.23], "nice": false, "zero": false},
              "axis": {"title": "PIRFg-YFP induction (norm.)", "values": [0, 0.5, 1, 1.5, 2], "tickCount": 20, "labelExpr": "datum.value == 0 ? '0' : format(datum.value, '.1f')", "labelOverlap": false, "ticks": false, "labelPadding": 3, "titlePadding": 7}},
            "color": {"field": "g", "type": "nominal", "scale": {"domain": ["c", "p", "s"], "range": ["#000000", "#2d2d8c", "#d42a2a"]},
              "legend": {"title": null, "orient": "bottom-right", "labelExpr": "datum.label == 'c' ? 'control' : datum.label == 'p' ? 'pulses' : 'sustained'", "strokeColor": "black", "fillColor": "white", "padding": 2, "offset": 10, "symbolSize": 25, "symbolStrokeColor": "#111111", "symbolStrokeWidth": 0.5, "rowPadding": -1, "labelOffset": 2, "labelFontSize": 13}}
          }
        }
      ]
    }
  ]
}
